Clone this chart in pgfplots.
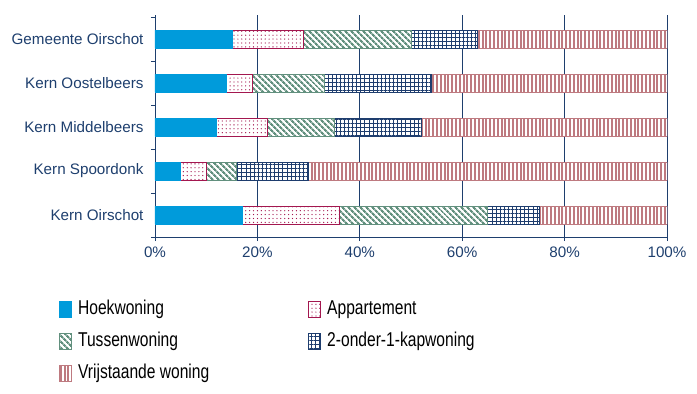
\documentclass[border=0pt]{standalone}
\usepackage{pgfplots}
\pgfplotsset{compat=1.18}
\usetikzlibrary{patterns.meta}
\usepackage{fontspec}
\setmainfont{Liberation Sans}
\newfontfamily\legfont{Liberation Sans}[FakeStretch=0.78]
\definecolor{navy}{HTML}{1E3F6E}
\definecolor{hoek}{HTML}{009BDB}
\definecolor{app}{HTML}{A3174F}
\definecolor{tus}{HTML}{62907E}
\definecolor{kap}{HTML}{1E3D6E}
\definecolor{vrij}{HTML}{BE7A80}
\begin{document}
\begin{tikzpicture}
\useasboundingbox (-155pt,-157pt) rectangle (542pt,237pt);
\begin{axis}[
  at={(0,0)}, anchor=south west,
  width=512pt, height=222pt, scale only axis,
  xbar stacked, bar width=18pt,
  xmin=0, xmax=100, ymin=-0.5, ymax=4.55,
  axis x line=bottom, axis y line=left,
  axis line style={navy, line width=0.8pt, -},
  xtick={0,20,40,60,80,100},
  xticklabels={0\%,20\%,40\%,60\%,80\%,100\%},
  xmajorgrids, grid style={navy, line width=0.8pt},
  ytick={0,1,2,3,4},
  yticklabels={Kern Oirschot, Kern Spoordonk, Kern Middelbeers, Kern Oostelbeers, Gemeente Oirschot},
  minor ytick={-0.5,0.5,1.5,2.5,3.5,4.5},
  major y tick style={draw=none},
  minor tick length=4pt, major tick length=4pt,
  tick align=outside,
  tick style={navy, line width=0.8pt},
  ticklabel style={font=\fontsize{15.2}{17}\selectfont, text=navy},
  xticklabel style={yshift=-2pt},
  yticklabel style={xshift=-4pt},
  legend columns=2,
  legend cell align=left,
  legend image code/.code={\draw[#1, line width=0.9pt] (0pt,-8pt) rectangle (12pt,8pt);},
  legend style={draw=none, fill=none, inner sep=0pt, anchor=north west,
    at={(axis description cs:-0.1875,-0.285)},
    font=\legfont\fontsize{20}{22}\selectfont,
    nodes={inner sep=0pt, text depth=4pt, text height=14pt},
    /tikz/every even column/.append style={column sep=99pt},
    /tikz/every odd column/.append style={column sep=6pt},
    row sep=14pt},
]
\addplot[fill=hoek, draw=hoek] coordinates {(17,0) (5,1) (12,2) (14,3) (15,4)};
\addplot[draw=app, line width=0.9pt, fill=white, postaction={pattern={Dots[distance=3.9pt, radius=0.65pt]}, pattern color=app}] coordinates {(19,0) (5,1) (10,2) (5,3) (14,4)};
\addplot[draw=tus, line width=0.9pt, fill=white, postaction={pattern={Lines[angle=-45, distance=4pt, line width=2.2pt]}, pattern color=tus}] coordinates {(29,0) (6,1) (13,2) (14,3) (21,4)};
\addplot[draw=kap, line width=0.9pt, fill=white, postaction={pattern={Hatch[angle=0, distance=4.1pt, line width=1pt]}, pattern color=kap}] coordinates {(10,0) (14,1) (17,2) (21,3) (13,4)};
\addplot[draw=vrij, line width=0.9pt, fill=white, postaction={pattern={Lines[angle=90, distance=3.8pt, line width=2pt]}, pattern color=vrij}] coordinates {(25,0) (70,1) (48,2) (46,3) (37,4)};
\legend{Hoekwoning, Appartement, Tussenwoning, 2-onder-1-kapwoning, Vrijstaande woning}
\end{axis}
\end{tikzpicture}
\end{document}
